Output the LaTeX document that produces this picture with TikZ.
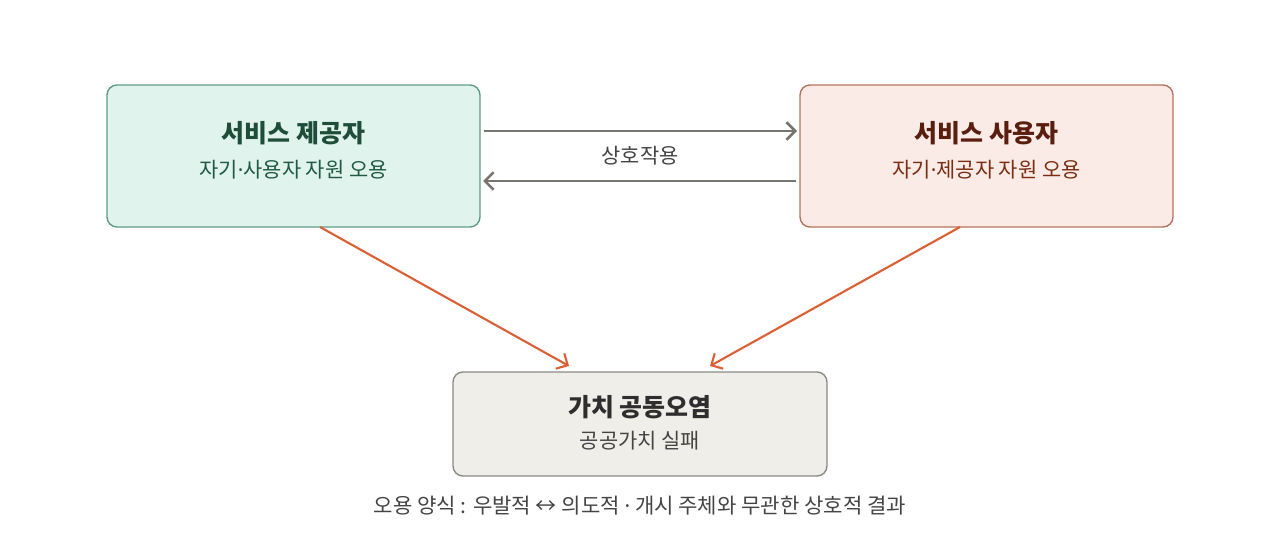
\documentclass[tikz,border=0pt]{standalone}
\usepackage{fontspec}
\setmainfont{Noto Sans CJK KR}
\newfontfamily\dotfont{Noto Sans}
\newcommand{\md}{{\dotfont ·}}
\usetikzlibrary{arrows.meta}
\definecolor{provfill}{HTML}{E0F3EC}
\definecolor{provdraw}{HTML}{5E9C84}
\definecolor{provtitle}{HTML}{1E4D3A}
\definecolor{provsub}{HTML}{1F5A44}
\definecolor{userfill}{HTML}{FAEBE6}
\definecolor{userdraw}{HTML}{B5725E}
\definecolor{usertitle}{HTML}{5A1E0E}
\definecolor{usersub}{HTML}{7A2E14}
\definecolor{valfill}{HTML}{F0EEE8}
\definecolor{valdraw}{HTML}{8A8A84}
\definecolor{valtext}{HTML}{2E2E2E}
\definecolor{graytext}{HTML}{444444}
\definecolor{grayarrow}{HTML}{76766F}
\definecolor{orangearrow}{HTML}{D95F35}
\tikzset{
  box/.style={rounded corners=10*0.02cm, line width=0.8pt, inner sep=0pt},
  ttl/.style={font=\fontsize{14.2}{16}\selectfont\bfseries},
  sub/.style={font=\fontsize{11.9}{14}\selectfont},
  capt/.style={font=\fontsize{12}{14}\selectfont},
  grayarr/.style={draw=grayarrow, line width=1.6pt, -{Straight Barb[length=5pt,width=10pt,line width=1.5pt]}},
  orarr/.style={draw=orangearrow, line width=1.2pt, -{Straight Barb[length=5pt,width=10pt,line width=1.2pt]}},
}
\begin{document}
\begin{tikzpicture}[x=0.02cm,y=-0.02cm]
\useasboundingbox (0,0) rectangle (1280,538);
% boxes
\draw[box, fill=provfill, draw=provdraw] (107,85) rectangle (480,227);
\draw[box, fill=userfill, draw=userdraw] (800,85) rectangle (1173,227);
\draw[box, fill=valfill, draw=valdraw] (453,372) rectangle (827,476);
% texts
\node[ttl, text=provtitle] (provT) at (293.5,133) {서비스 제공자};
\node[sub, text=provsub] (provS) at (293.5,170) {자기\md 사용자 자원 오용};
\node[ttl, text=usertitle] (userT) at (986.5,133) {서비스 사용자};
\node[sub, text=usersub] (userS) at (986.5,170) {자기\md 제공자 자원 오용};
\node[ttl, text=valtext] (valT) at (640,407) {가치 공동오염};
\node[sub, text=graytext] (valS) at (640,441) {공공가치 실패};
\node[sub, text=graytext] (inter) at (640,156) {상호작용};
\node[capt, text=graytext] (cap) at (640,506) {오용 양식 : 우발적 ↔ 의도적 \md{} 개시 주체와 무관한 상호적 결과};
% connectors
\coordinate (a1s) at (484,131); \coordinate (a1e) at (797,131);
\coordinate (a2s) at (796,181); \coordinate (a2e) at (483,181);
\draw[grayarr] (a1s) -- (a1e);
\draw[grayarr] (a2s) -- (a2e);
\coordinate (o1s) at (320,227); \coordinate (o1e) at (569,366);
\coordinate (o2s) at (960,227); \coordinate (o2e) at (710,366);
\draw[orarr] (o1s) -- (o1e);
\draw[orarr] (o2s) -- (o2e);
\end{tikzpicture}
\end{document}
